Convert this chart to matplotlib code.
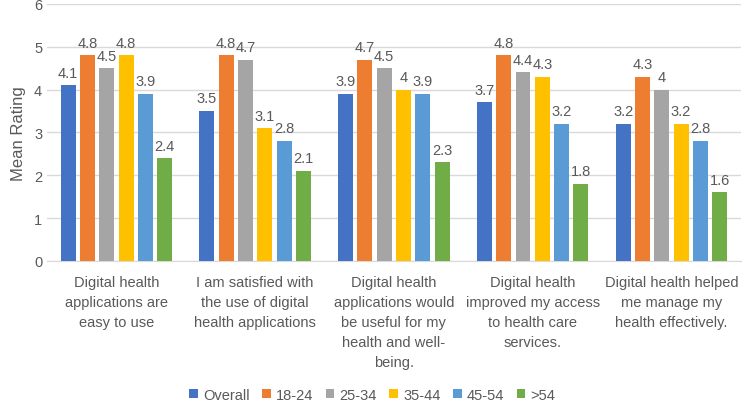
import numpy as np
import matplotlib
matplotlib.use("Agg")
import matplotlib.pyplot as plt

plt.rcParams['font.family'] = ['Liberation Sans', 'DejaVu Sans']

categories = [
    "Digital health\napplications are\neasy to use",
    "I am satisfied with\nthe use of digital\nhealth applications",
    "Digital health\napplications would\nbe useful for my\nhealth and well-\nbeing.",
    "Digital health\nimproved my access\nto health care\nservices.",
    "Digital health helped\nme manage my\nhealth effectively.",
]
groups = ["Overall", "18-24", "25-34", "35-44", "45-54", ">54"]
overall = [4.1, 3.5, 3.9, 3.7, 3.2]
age_18_24 = [4.8, 4.8, 4.7, 4.8, 4.3]
age_25_34 = [4.5, 4.7, 4.5, 4.4, 4.0]
age_35_44 = [4.8, 3.1, 4.0, 4.3, 3.2]
age_45_54 = [3.9, 2.8, 3.9, 3.2, 2.8]
age_over_54 = [2.4, 2.1, 2.3, 1.8, 1.6]
series = [overall, age_18_24, age_25_34, age_35_44, age_45_54, age_over_54]
colors = ["#4472C4", "#ED7D31", "#A5A5A5", "#FFC000", "#5B9BD5", "#70AD47"]

text_col = "#595959"
grid_col = "#D9D9D9"

fig = plt.figure(figsize=(7.46, 4.06), dpi=100)
ax = fig.add_axes([0.063, 0.355, 0.930, 0.633])

x = np.arange(len(categories))
step = 0.139
width = 0.108
for i, (name, vals, col) in enumerate(zip(groups, series, colors)):
    offs = (i - 2.5) * step
    bars = ax.bar(x + offs, vals, width, color=col, label=name, zorder=3)
    ax.bar_label(bars, labels=[f"{v:g}" for v in vals], padding=4,
                 fontsize=10.5, color=text_col)

ax.set_xlim(-0.5, len(categories) - 0.5)
ax.set_ylim(0, 6)
ax.set_yticks(range(0, 7))
ax.yaxis.grid(True, color=grid_col, linewidth=1, zorder=0)
ax.set_axisbelow(True)
for s in ["top", "right", "left"]:
    ax.spines[s].set_visible(False)
ax.spines["bottom"].set_color(grid_col)
ax.tick_params(axis="both", length=0, colors=text_col, labelsize=10.5)
ax.tick_params(axis="x", pad=10)
ax.set_xticks(x)
ax.set_xticklabels(categories, fontsize=10.5, linespacing=1.55, va="top")
ax.set_ylabel("Mean Rating", color=text_col, fontsize=12, labelpad=6)

ax.legend(loc="center", bbox_to_anchor=(0.499, 0.025), bbox_transform=fig.transFigure,
          ncol=6, frameon=False, fontsize=10.5, handlelength=0.6, handleheight=0.6,
          handletextpad=0.35, columnspacing=0.85, labelcolor=text_col)

fig.savefig("out.png", dpi=100)
